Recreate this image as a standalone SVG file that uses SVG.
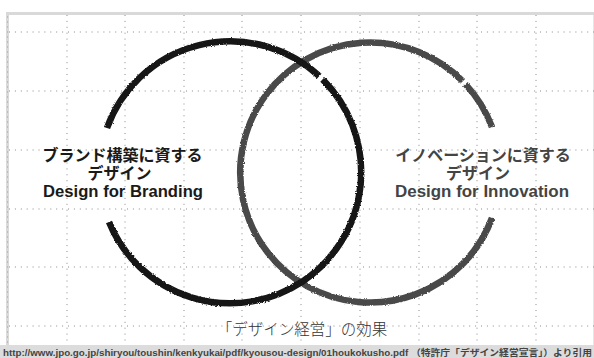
<svg xmlns="http://www.w3.org/2000/svg" width="594" height="358" viewBox="0 0 594 358">
  <defs>
    <style>
      .grid { stroke: #8a8a8a; stroke-width: 1; stroke-dasharray: 1 4.9; fill: none; }
      .ring { fill: none; stroke-width: 6.5; stroke-linecap: butt; filter: url(#rough); }
      .lbl { font-family: "Liberation Sans", "Noto Sans CJK JP", sans-serif; font-weight: 700; font-size: 16px; text-anchor: middle; }
      .cap { font-family: "Liberation Sans", "Noto Sans CJK JP", sans-serif; font-weight: 300; font-size: 15.5px; fill: #333; text-anchor: middle; }
      .src { font-family: "Liberation Sans", "Noto Sans CJK JP", sans-serif; font-weight: 700; font-size: 9px; fill: #444; }
    </style>
    <filter id="rough" x="-10%" y="-10%" width="120%" height="120%">
      <feTurbulence type="fractalNoise" baseFrequency="0.9" numOctaves="2" seed="3" result="n"/>
      <feDisplacementMap in="SourceGraphic" in2="n" scale="2.5" xChannelSelector="R" yChannelSelector="G"/>
    </filter>
  </defs>

  <rect width="594" height="358" fill="#ffffff"/>

  <!-- frame -->
  <rect x="6" y="12" width="588" height="3" fill="#d9d9d9"/>
  <rect x="6" y="12" width="3" height="334" fill="#d9d9d9"/>
  <line x1="7.5" y1="16" x2="7.5" y2="345" stroke="#bdbdbd" stroke-width="1" stroke-dasharray="2 3"/>
  <line x1="593.5" y1="15" x2="593.5" y2="345" stroke="#e6e6e6" stroke-width="1"/>

  <!-- grid -->
  <g id="grid" class="grid">
    <line x1="9" y1="32" x2="594" y2="32"/>
    <line x1="9" y1="91" x2="594" y2="91"/>
    <line x1="9" y1="150" x2="594" y2="150"/>
    <line x1="9" y1="209" x2="594" y2="209"/>
    <line x1="9" y1="267" x2="594" y2="267"/>
    <line x1="9" y1="326" x2="594" y2="326"/>
    <line x1="67" y1="15" x2="67" y2="345"/>
    <line x1="125" y1="15" x2="125" y2="345"/>
    <line x1="184" y1="15" x2="184" y2="345"/>
    <line x1="242" y1="15" x2="242" y2="345"/>
    <line x1="301" y1="15" x2="301" y2="345"/>
    <line x1="360" y1="15" x2="360" y2="345"/>
    <line x1="419" y1="15" x2="419" y2="345"/>
    <line x1="477" y1="15" x2="477" y2="345"/>
    <line x1="536" y1="15" x2="536" y2="345"/>
  </g>

  <g id="connectors"></g>

  <!-- innovation circle (grey, below) -->
  <g id="circle-innovation">
    <path class="ring" stroke="#4a4a4a" d="M 462.8 81.3 A 130 130 0 1 0 492 218"/>
    <path class="ring" stroke="#4a4a4a" d="M 492 127 A 130 130 0 0 0 465.4 84.1"/>
  </g>

  <!-- branding circle (black, on top) -->
  <g id="circle-branding">
    <path class="ring" stroke="#141414" d="M 107 128 A 131 131 0 0 1 319.3 76.2"/>
    <path class="ring" stroke="#141414" d="M 322.6 79.4 A 131 131 0 1 1 109 222"/>
  </g>

  <g id="label-branding" class="lbl" fill="#1a1a1a">
    <text x="122.5" y="161">ブランド構築に資する</text>
    <text x="119.5" y="179">デザイン</text>
    <text x="123" y="197" textLength="160" lengthAdjust="spacingAndGlyphs">Design for Branding</text>
  </g>

  <g id="label-innovation" class="lbl" fill="#444444">
    <text x="483" y="161">イノベーションに資する</text>
    <text x="478" y="179">デザイン</text>
    <text x="482" y="197" textLength="174" lengthAdjust="spacingAndGlyphs">Design for Innovation</text>
  </g>

  <text id="caption" class="cap" x="302" y="335">「デザイン経営」の効果</text>

  <!-- source band -->
  <rect x="0" y="345" width="594" height="13" fill="#dcdcdc"/>
  <text class="src" x="3" y="355.5" textLength="589" lengthAdjust="spacingAndGlyphs">http://www.jpo.go.jp/shiryou/toushin/kenkyukai/pdf/kyousou-design/01houkokusho.pdf （特許庁「デザイン経営宣言」）より引用</text>
</svg>
